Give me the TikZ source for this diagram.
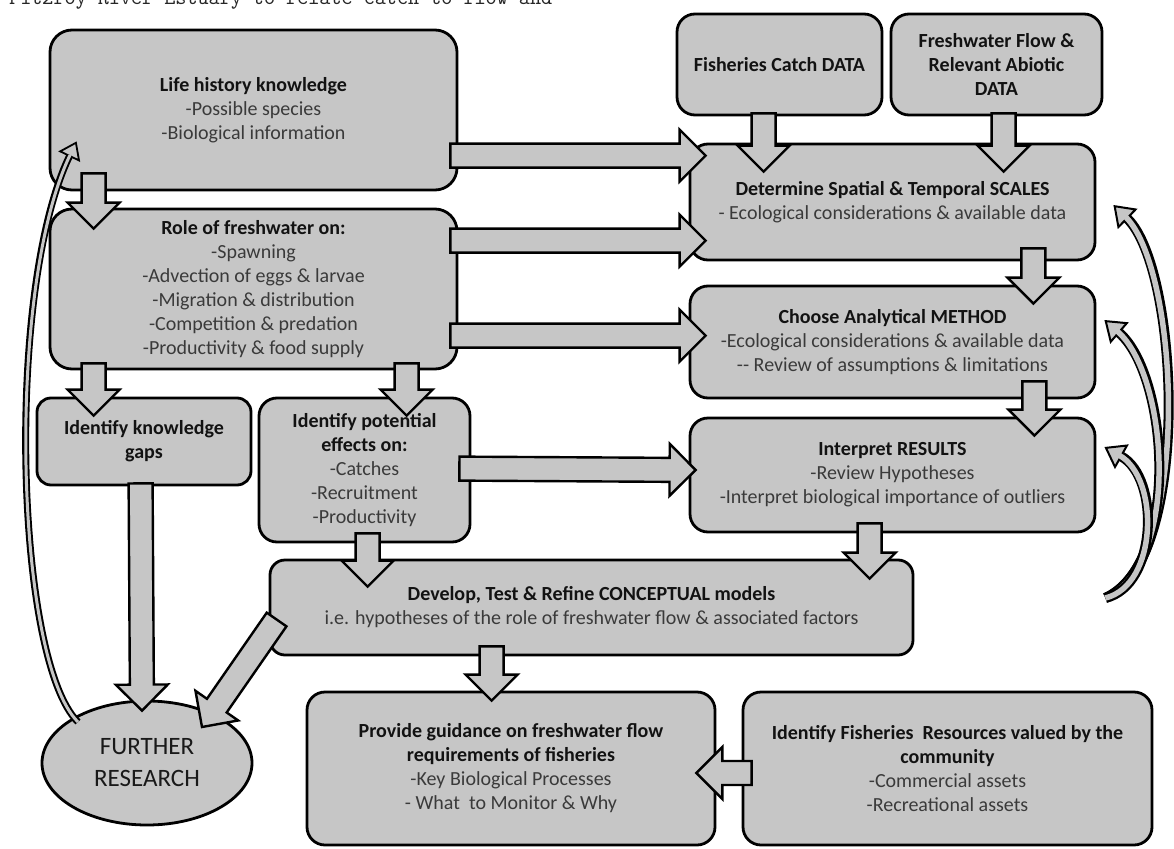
\documentclass[tikz,border=0pt]{standalone}
\usepackage{fontspec}
\setmainfont{Carlito}
\usetikzlibrary{calc,arrows.meta,shapes.geometric}

\definecolor{boxfill}{RGB}{198,198,198}
\definecolor{bodytext}{RGB}{58,58,58}
\definecolor{titletext}{RGB}{18,18,18}

\newcommand\hd[1]{\textcolor{titletext}{\bfseries #1}}

\tikzset{
  stepbox/.style={draw=black, line width=2.8pt, fill=boxfill, rounded corners=18pt,
    align=center, inner sep=0pt, text=bodytext, font=\fontsize{20}{24}\selectfont},
  blockarrow/.style={draw=black, line width=2.4pt, fill=boxfill, line join=miter},
  loopouter/.style={draw=black, line width=10pt,
    -{Triangle[length=20pt,width=28pt,fill=boxfill,line width'=2pt]}},
  loopinner/.style={draw=boxfill, line width=5.5pt, shorten >=17pt},
  backouter/.style={draw=black, line width=7pt,
    -{Triangle[length=17pt,width=24pt,fill=boxfill,line width'=1.8pt]}},
  backinner/.style={draw=boxfill, line width=3pt, shorten >=15pt},
}

% straight block arrow from #1 to #2 (tip at #2)
\newcommand\blockarrow[2]{%
  \coordinate (ba-s) at #1;
  \coordinate (ba-e) at #2;
  \coordinate (ba-h) at ($(ba-e)!26pt!(ba-s)$);
  \draw[blockarrow]
    ($(ba-s)!12pt!90:(ba-e)$) -- ($(ba-h)!12pt!90:(ba-e)$) -- ($(ba-h)!26pt!90:(ba-e)$)
    -- (ba-e)
    -- ($(ba-h)!26pt!-90:(ba-e)$) -- ($(ba-h)!12pt!-90:(ba-e)$) -- ($(ba-s)!12pt!-90:(ba-e)$)
    -- cycle;}

% curved outlined arrow along a path
\newcommand\looparrow[1]{\draw[loopouter] #1; \draw[loopinner] #1;}
\newcommand\backarrow[1]{\draw[backouter] #1; \draw[backinner] #1;}

\begin{document}
\begin{tikzpicture}[x=1pt,y=-1pt]
\useasboundingbox (0,0) rectangle (1174,848);
\clip (0,0) rectangle (1174,848);

% running text line above the chart (mostly above the page edge)
\node[anchor=base west, inner sep=0pt, text=black!85] (runline) at (9,5)
  {\resizebox{543pt}{!}{\ttfamily Fitzroy River Estuary to relate catch to flow and}};

% ---- boxes ----
\node[stepbox, minimum width=407pt, minimum height=160pt, rounded corners=22pt] (life) at (253.5,110)
  {\hd{Life history knowledge}\\-Possible species\\-Biological information};
\node[stepbox, minimum width=407pt, minimum height=160pt, rounded corners=22pt] (role) at (253.5,289)
  {\hd{Role of freshwater on:}\\-Spawning\\-Advection of eggs \& larvae\\-Migration \& distribution\\-Competition \& predation\\-Productivity \& food supply};
\node[stepbox, minimum width=214pt, minimum height=87pt, rounded corners=14pt] (gaps) at (144,441.5)
  {\hd{Identify knowledge}\\\hd{gaps}};
\node[stepbox, minimum width=211pt, minimum height=144pt] (effects) at (364.5,470)
  {\hd{Identify potential}\\\hd{effects on:}\\-Catches\\-Recruitment\\-Productivity};
\node[stepbox, minimum width=643pt, minimum height=95pt, rounded corners=15pt] (develop) at (591.5,607.5)
  {\hd{Develop, Test \& Refine CONCEPTUAL models}\\i.e. hypotheses of the role of freshwater flow \& associated factors};
\node[stepbox, minimum width=408pt, minimum height=153pt] (provide) at (511,768.5)
  {\hd{Provide guidance on freshwater flow}\\\hd{requirements of fisheries}\\-Key Biological Processes\\- What~ to Monitor \& Why};
\node[stepbox, minimum width=409pt, minimum height=153pt] (resources) at (947.5,768.5)
  {\hd{Identify Fisheries~ Resources valued by the}\\\hd{community}\\-Commercial assets\\-Recreational assets};
\node[draw=black, line width=2.8pt, fill=boxfill, ellipse, inner sep=0pt,
      minimum width=210pt, minimum height=124pt, align=center, text=black!90,
      font=\fontsize{25}{32}\selectfont] (further) at (147,763)
  {FURTHER\\RESEARCH};
\node[stepbox, minimum width=205pt, minimum height=101pt] (catch) at (779.5,64.5)
  {\hd{Fisheries Catch DATA}};
\node[stepbox, minimum width=211pt, minimum height=101pt] (flow) at (996.5,64.5)
  {\hd{Freshwater Flow \&}\\\hd{Relevant Abiotic}\\\hd{DATA}};
\node[stepbox, minimum width=405pt, minimum height=116pt] (determine) at (892.5,202)
  {\hd{Determine Spatial \& Temporal SCALES}\\- Ecological considerations \& available data};
\node[stepbox, minimum width=405pt, minimum height=112pt] (choose) at (892.5,342)
  {\hd{Choose Analytical METHOD}\\-Ecological considerations \& available data\\-{}- Review of assumptions \& limitations};
\node[stepbox, minimum width=405pt, minimum height=114pt] (interpret) at (892.5,475)
  {\hd{Interpret RESULTS}\\-Review Hypotheses\\-Interpret biological importance of outliers};

% ---- block arrows ----
\blockarrow{($(life.south west)+(45,-18)$)}{($(role.north west)+(45,21)$)}
\blockarrow{($(role.south west)+(45,-7)$)}{($(gaps.north west)+(58,19)$)}
\blockarrow{($(role.south west)+(358,-7)$)}{($(effects.north west)+(149,19)$)}
\blockarrow{($(effects.south west)+(110,-10)$)}{($(develop.north west)+(99,28)$)}
\blockarrow{($(gaps.south west)+(105,-3)$)}{($(further.north)+(-5,11)$)}
\blockarrow{($(develop.west)+(8,12)$)}{($(further.center)+(55,-36)$)}
\blockarrow{($(catch.south west)+(88,-3)$)}{($(determine.north west)+(75,29)$)}
\blockarrow{($(flow.south west)+(114,-3)$)}{($(determine.north west)+(315,29)$)}
\blockarrow{($(determine.south east)+(-63,-13)$)}{($(choose.north east)+(-63,19)$)}
\blockarrow{($(choose.south east)+(-62,-18)$)}{($(interpret.north east)+(-62,19)$)}
\blockarrow{($(interpret.south west)+(181,-10)$)}{($(develop.north west)+(601,20)$)}
\blockarrow{($(develop.south west)+(223,-10)$)}{($(provide.north west)+(186,10)$)}
\blockarrow{($(resources.west)+(10,4.5)$)}{($(provide.east)+(-20,4.5)$)}
\blockarrow{($(life.north east)+(-8,127)$)}{($(determine.north west)+(17,13)$)}
\blockarrow{($(role.north east)+(-8,33)$)}{($(determine.north west)+(17,98)$)}
\blockarrow{($(role.north east)+(-8,128)$)}{($(choose.north west)+(17,51)$)}
\blockarrow{($(effects.north east)+(-12,72)$)}{($(interpret.west)+(7,-5)$)}

% ---- feedback loops on the right ----
\coordinate (loopfoot) at ($(develop.east)+(191,-9.5)$);
\looparrow{(loopfoot) .. controls (1192,562) and (1180,270) .. ($(determine.east)+(17,3)$)}
\looparrow{(loopfoot) .. controls (1182,562) and (1168,375) .. ($(choose.east)+(8,-22)$)}
\looparrow{(loopfoot) .. controls (1158,585) and (1160,478) .. ($(interpret.east)+(8,-28)$)}

% ---- loop from further research back to life history ----
\backarrow{($(further.center)+(-69,-41)$) .. controls (15,660) and (5,290) .. ($(life.south west)+(28,-50)$)}

\end{tikzpicture}
\end{document}
